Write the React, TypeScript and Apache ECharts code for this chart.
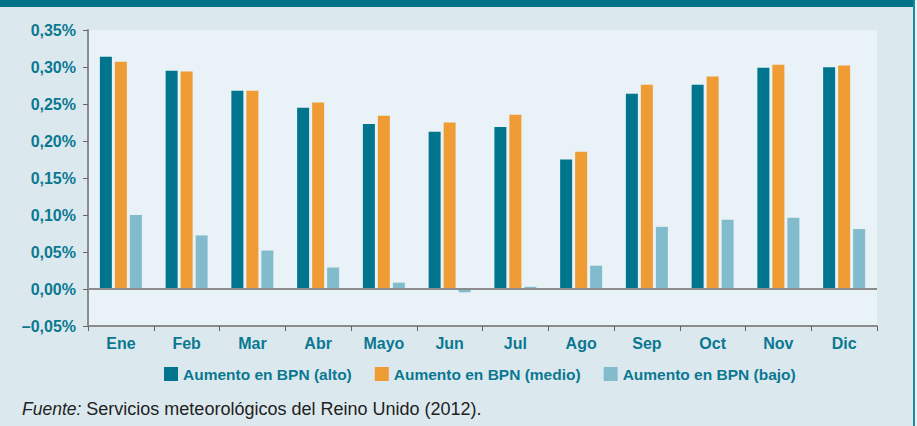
import React, { useEffect, useRef } from "react";
import * as echarts from "echarts";

const months = ["Ene", "Feb", "Mar", "Abr", "Mayo", "Jun", "Jul", "Ago", "Sep", "Oct", "Nov", "Dic"];
const alto = [0.314, 0.295, 0.268, 0.245, 0.223, 0.2125, 0.219, 0.175, 0.264, 0.276, 0.299, 0.2995];
const medio = [0.307, 0.294, 0.268, 0.252, 0.234, 0.225, 0.2355, 0.1855, 0.276, 0.287, 0.303, 0.302];
const bajo = [0.1, 0.0724, 0.052, 0.029, 0.0085, -0.0045, 0.003, 0.0315, 0.084, 0.0936, 0.0963, 0.081];
const seriesNames = ["Aumento en BPN (alto)", "Aumento en BPN (medio)", "Aumento en BPN (bajo)"];
const colors = ["#00758d", "#f09c35", "#82bccc"];

const FONT = "'Liberation Sans', Arial, Helvetica, sans-serif";
const TEAL_TEXT = "#0b7891";

export default function App() {
  const ref = useRef<HTMLDivElement>(null);
  useEffect(() => {
    document.body.style.margin = "0";
    const chart = echarts.init(ref.current!, null, { renderer: "svg" });
    const mk = (name: string, data: number[], color: string, withZero: boolean) => ({
      name,
      type: "bar",
      data,
      barWidth: 12,
      barGap: "25%",
      itemStyle: { color },
      markLine: withZero
        ? {
            silent: true,
            symbol: "none",
            label: { show: false },
            lineStyle: { color: "#8c8c8c", width: 2, type: "solid" },
            data: [{ yAxis: 0 }],
          }
        : undefined,
    });
    chart.setOption({
      animation: false,
      backgroundColor: "#dbe9ef",
      color: colors,
      grid: {
        left: 88,
        right: 40,
        top: 30,
        bottom: 100,
        show: true,
        backgroundColor: "#e9f2f6",
        borderWidth: 0,
      },
      legend: {
        left: 164,
        top: 366,
        padding: 0,
        icon: "rect",
        itemWidth: 14,
        itemHeight: 14,
        itemGap: 23,
        textStyle: { color: TEAL_TEXT, fontWeight: "bold", fontSize: 15.5, fontFamily: FONT },
        data: seriesNames,
      },
      title: {
        left: 22,
        top: 400,
        padding: 0,
        text: "{i|Fuente:} Servicios meteorológicos del Reino Unido (2012).",
        textStyle: {
          fontSize: 18,
          fontFamily: FONT,
          color: "#222222",
          fontWeight: "normal",
          rich: {
            i: { fontStyle: "italic", fontSize: 17.5, fontFamily: FONT, color: "#222222" },
          },
        },
      },
      xAxis: {
        type: "category",
        data: months,
        axisLine: { onZero: false, lineStyle: { color: "#8c8c8c", width: 2 } },
        axisTick: { show: true, length: 5, lineStyle: { color: "#666666", width: 1 } },
        axisLabel: {
          color: TEAL_TEXT,
          fontWeight: "bold",
          fontSize: 16,
          fontFamily: FONT,
          margin: 9,
        },
      },
      yAxis: {
        type: "value",
        min: -0.05,
        max: 0.35,
        interval: 0.05,
        splitLine: { show: false },
        axisLine: { show: true, lineStyle: { color: "#8c8c8c", width: 2 } },
        axisTick: { show: true, length: 5, lineStyle: { color: "#666666", width: 1 } },
        axisLabel: {
          color: TEAL_TEXT,
          fontWeight: "bold",
          fontSize: 16,
          fontFamily: FONT,
          margin: 12,
          formatter: (v: number) => {
            const s = Math.abs(v).toFixed(2).replace(".", ",") + "%";
            return v < -1e-9 ? "\u2013" + s : s;
          },
        },
      },
      graphic: [
        { type: "rect", left: 0, top: 0, shape: { width: 917, height: 7 }, style: { fill: "#00738a" } },
        { type: "rect", left: 913, top: 0, shape: { width: 2, height: 426 }, style: { fill: "#1a8aa0" } },
        { type: "rect", left: 915, top: 0, shape: { width: 2, height: 426 }, style: { fill: "#eaf3f6" } },
      ],
      series: [
        mk(seriesNames[0], alto, colors[0], true),
        mk(seriesNames[1], medio, colors[1], false),
        mk(seriesNames[2], bajo, colors[2], false),
      ],
    });
    return () => chart.dispose();
  }, []);
  return <div ref={ref} style={{ position: "absolute", left: 0, top: 0, width: 917, height: 426 }} />;
}
